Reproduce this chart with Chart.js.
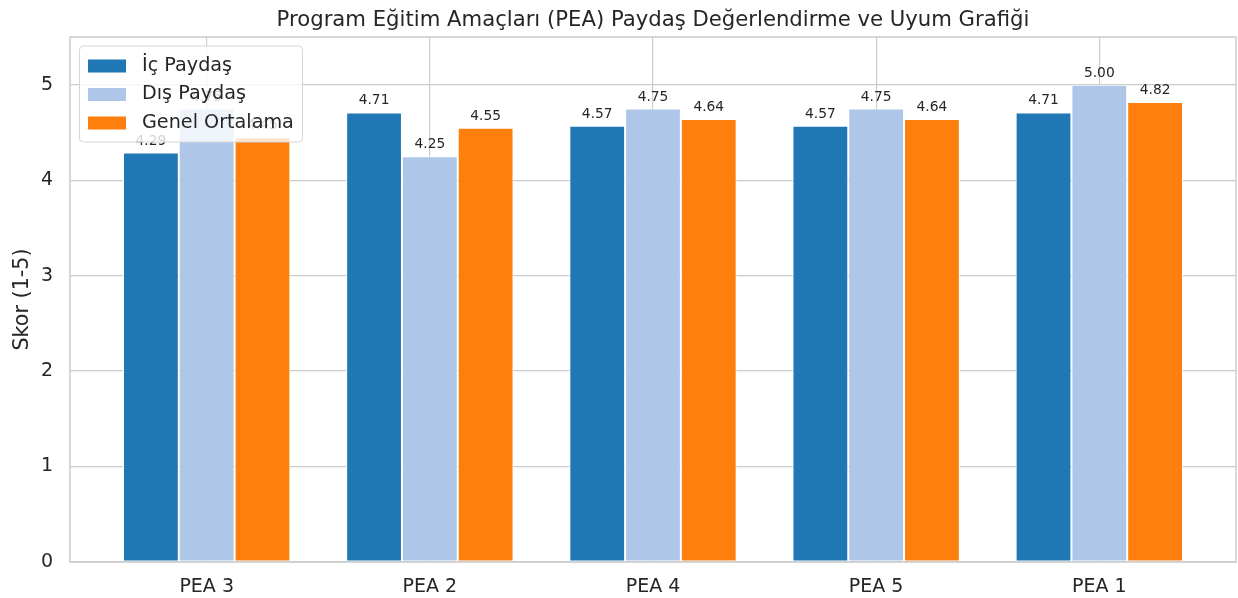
<!DOCTYPE html>
<html>
<head>
<meta charset="utf-8">
<script src="https://cdn.jsdelivr.net/npm/chart.js@4.4.1/dist/chart.umd.min.js"></script>
<style>
  html, body { margin: 0; padding: 0; background: #fff; }
  #wrap { width: 1238px; height: 598px; }
</style>
</head>
<body>
<div id="wrap"><canvas id="chart" width="1238" height="598"></canvas></div>
<script>
const categories = ["PEA 3", "PEA 2", "PEA 4", "PEA 5", "PEA 1"];
const icPaydas = [4.29, 4.71, 4.57, 4.57, 4.71];
const disPaydas = [4.75, 4.25, 4.75, 4.75, 5.00];
const genelOrtalama = [4.45, 4.55, 4.64, 4.64, 4.82];
const yTicks = [0, 1, 2, 3, 4, 5];

const seriesNames = ["İç Paydaş", "Dış Paydaş", "Genel Ortalama"];
const seriesColors = ["#1f77b4", "#aec7e8", "#ff7f0e"];
const FONT = "'DejaVu Sans', sans-serif";
const TEXT = "#262626";
const GRID = "#cccccc";

const toPoints = (arr) => arr.map((v, i) => ({ x: i, y: v }));

// frame, title, y label, value labels and the matplotlib-like legend
const decorPlugin = {
    id: "decor",
    afterDatasetsDraw(chart) {
        const ctx = chart.ctx;
        ctx.save();
        ctx.fillStyle = TEXT;
        ctx.font = "13.8px " + FONT;
        ctx.textAlign = "center";
        ctx.textBaseline = "alphabetic";
        chart.data.datasets.forEach((ds, di) => {
            chart.getDatasetMeta(di).data.forEach((bar, i) => {
                ctx.fillText(ds.data[i].y.toFixed(2), bar.x, bar.y - 8);
            });
        });
        ctx.restore();
    },
    afterDraw(chart) {
        const ctx = chart.ctx;
        const a = chart.chartArea;
        ctx.save();
        ctx.strokeStyle = GRID;
        ctx.lineWidth = 1.5;
        ctx.strokeRect(a.left, a.top, a.right - a.left, a.bottom - a.top);

        ctx.fillStyle = TEXT;
        ctx.font = "21.2px " + FONT;
        ctx.textAlign = "center";
        ctx.textBaseline = "middle";
        ctx.fillText("Program Eğitim Amaçları (PEA) Paydaş Değerlendirme ve Uyum Grafiği", (a.left + a.right) / 2, 20);

        ctx.font = "20.7px " + FONT;
        ctx.save();
        ctx.translate(23, (a.top + a.bottom) / 2);
        ctx.rotate(-Math.PI / 2);
        ctx.fillText("Skor (1-5)", 0, 0);
        ctx.restore();

        // legend
        const lx = 79.5, ly = 46, lw = 223, lh = 96, r = 4;
        ctx.beginPath();
        ctx.moveTo(lx + r, ly);
        ctx.arcTo(lx + lw, ly, lx + lw, ly + lh, r);
        ctx.arcTo(lx + lw, ly + lh, lx, ly + lh, r);
        ctx.arcTo(lx, ly + lh, lx, ly, r);
        ctx.arcTo(lx, ly, lx + lw, ly, r);
        ctx.closePath();
        ctx.fillStyle = "rgba(255,255,255,0.8)";
        ctx.fill();
        ctx.strokeStyle = "#d6d6d6";
        ctx.lineWidth = 1;
        ctx.stroke();

        ctx.font = "19.2px " + FONT;
        ctx.textAlign = "left";
        ctx.textBaseline = "middle";
        seriesNames.forEach((name, i) => {
            const cy = 66 + i * 28.5;
            ctx.fillStyle = seriesColors[i];
            ctx.fillRect(88, cy - 6.5, 38, 13);
            ctx.fillStyle = TEXT;
            ctx.fillText(name, 142, cy);
        });
        ctx.restore();
    },
};

new Chart(document.getElementById("chart"), {
    type: "bar",
    data: {
        datasets: [
            { label: seriesNames[0], data: toPoints(icPaydas), backgroundColor: seriesColors[0] },
            { label: seriesNames[1], data: toPoints(disPaydas), backgroundColor: seriesColors[1] },
            { label: seriesNames[2], data: toPoints(genelOrtalama), backgroundColor: seriesColors[2] },
        ],
    },
    options: {
        responsive: false,
        animation: false,
        events: [],
        layout: { padding: { top: 37, right: 2, left: 0, bottom: 0 } },
        datasets: {
            bar: {
                categoryPercentage: 0.75,
                barPercentage: 1.0,
                borderColor: "#ffffff",
                borderWidth: 1,
                borderSkipped: false,
            },
        },
        scales: {
            x: {
                type: "linear",
                offset: false,
                min: -0.6125,
                max: 4.6125,
                afterBuildTicks: (scale) => {
                    scale.ticks = categories.map((_, i) => ({ value: i }));
                },
                afterFit: (scale) => { scale.height = 36; },
                ticks: {
                    callback: (v) => categories[v] ?? "",
                    color: TEXT,
                    font: { family: FONT, size: 19 },
                    padding: 14,
                    maxRotation: 0,
                    autoSkip: false,
                },
                grid: { color: GRID, lineWidth: 1.2, drawTicks: false, offset: false },
                border: { display: false },
            },
            y: {
                min: 0,
                max: 5.5,
                afterBuildTicks: (scale) => {
                    scale.ticks = yTicks.map((v) => ({ value: v }));
                },
                afterFit: (scale) => { scale.width = 70; },
                ticks: {
                    color: TEXT,
                    font: { family: FONT, size: 19 },
                    padding: 17,
                },
                grid: { color: GRID, lineWidth: 1.2, drawTicks: false },
                border: { display: false },
            },
        },
        plugins: {
            legend: { display: false },
            title: { display: false },
            tooltip: { enabled: false },
        },
    },
    plugins: [decorPlugin],
});
</script>
</body>
</html>
